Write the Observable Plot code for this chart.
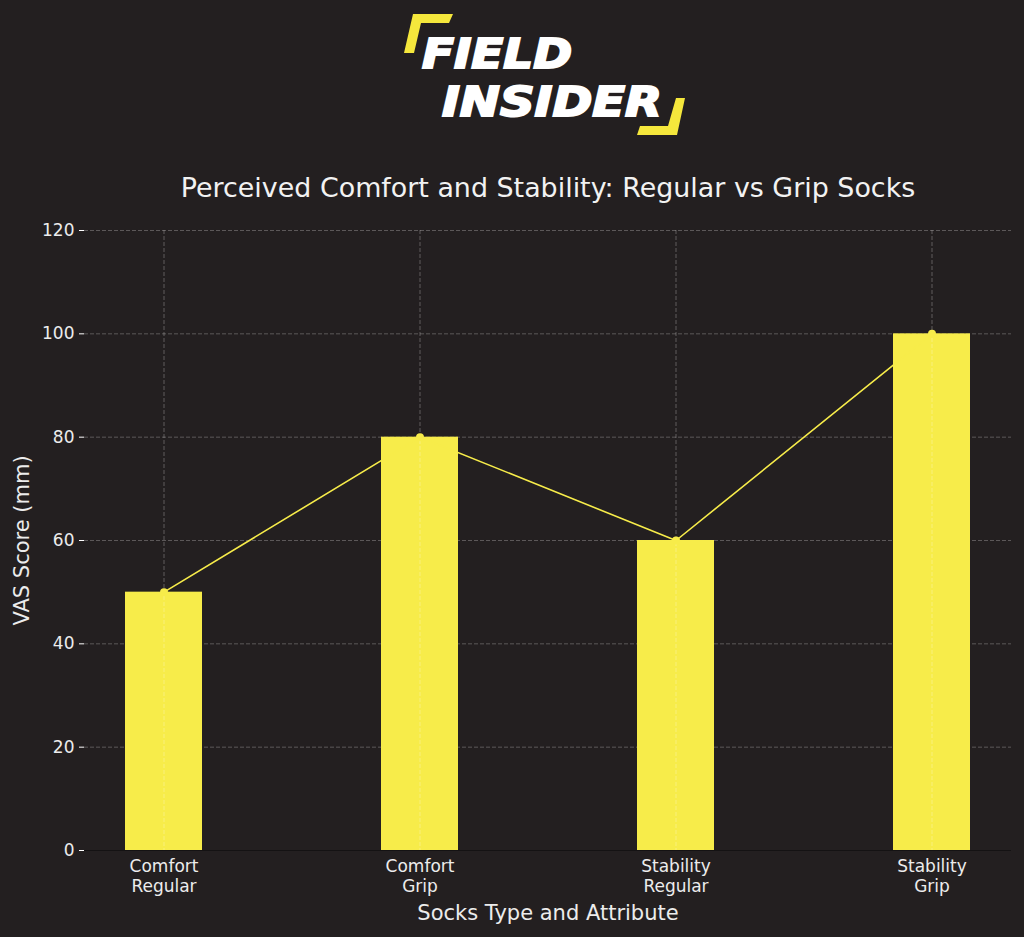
<!DOCTYPE html>
<html><head><meta charset="utf-8">
<script src="https://cdn.jsdelivr.net/npm/d3@7"></script>
<script src="https://cdn.jsdelivr.net/npm/@observablehq/plot@0.6"></script>
<style>
html,body{margin:0;padding:0;background:#231f20;}
#logo{display:block;width:1024px;height:150px;}
#chart{width:1024px;height:787px;}
</style></head><body>
<svg id="logo" width="1024" height="150" viewBox="0 0 1024 150">
  <polygon points="413,14 453,14 449,23 421,23 414,53 404,53" fill="#f5e73c"/>
  <polygon points="676,98 685,98 677,135 637,135 640,126 668,126" fill="#f5e73c"/>
  <text x="422" y="68" textLength="150" lengthAdjust="spacingAndGlyphs" font-family="DejaVu Sans" font-weight="bold" font-style="oblique" font-size="40" fill="#ffffff" stroke="#ffffff" stroke-width="2">FIELD</text>
  <text x="442" y="116" textLength="220" lengthAdjust="spacingAndGlyphs" font-family="DejaVu Sans" font-weight="bold" font-style="oblique" font-size="40" fill="#ffffff" stroke="#ffffff" stroke-width="2">INSIDER</text>
</svg>
<div id="chart"></div>
<script>
const categories = ["Comfort Regular", "Comfort Grip", "Stability Regular", "Stability Grip"];
const scores = [50, 80, 60, 100];
const yTicks = [0, 20, 40, 60, 80, 100, 120];
const titleText = "Perceived Comfort and Stability: Regular vs Grip Socks";
const xLabel = "Socks Type and Attribute";
const yLabel = "VAS Score (mm)";

const data = categories.map((c, i) => ({category: c, score: scores[i]}));
const barColor = "#f7ec4a";

const chart = Plot.plot({
  width: 1024, height: 787,
  marginLeft: 84, marginRight: 13, marginTop: 80, marginBottom: 87,
  style: {background: "#231f20", color: "#ececec", fontFamily: "DejaVu Sans", fontSize: "17px"},
  x: {domain: categories, paddingInner: 0.7, paddingOuter: 0.16, label: null},
  y: {domain: [0, 120], label: null},
  marks: [
    Plot.gridY(yTicks, {stroke: "#5c5859", strokeOpacity: 1, strokeDasharray: "4,2", strokeWidth: 1}),
    Plot.barY(data, {x: "category", y: "score", fill: barColor}),
    Plot.gridX(categories, {stroke: "#ffffff", strokeOpacity: 0.28, strokeDasharray: "4,2", strokeWidth: 1}),
    Plot.ruleY([0], {stroke: "#141213", strokeWidth: 1.2}),
    Plot.lineY(data, {x: "category", y: "score", stroke: barColor, strokeWidth: 1.6}),
    Plot.dot(data, {x: "category", y: "score", r: 4, fill: barColor}),
    Plot.axisY(yTicks, {tickSize: 5, tickPadding: 5, stroke: "#ffffff", fill: "#ececec", fontSize: 17, label: null}),
    Plot.axisX({tickSize: 0, tickPadding: 7, fill: "#ececec", fontSize: 17, lineHeight: 1.2, tickFormat: d => d.replace(" ", "\n"), label: null}),
    Plot.text([titleText], {text: d => d, frameAnchor: "top", dy: -53, fontSize: 26.9, fill: "#f2f2f2"}),
    Plot.text([xLabel], {text: d => d, frameAnchor: "bottom", dy: 69, fontSize: 21, fill: "#ececec"}),
    Plot.text([yLabel], {text: d => d, frameAnchor: "left", textAnchor: "middle", dx: -62, rotate: -90, fontSize: 21, fill: "#ececec"})
  ]
});
document.getElementById("chart").appendChild(chart);
</script>
</body></html>
